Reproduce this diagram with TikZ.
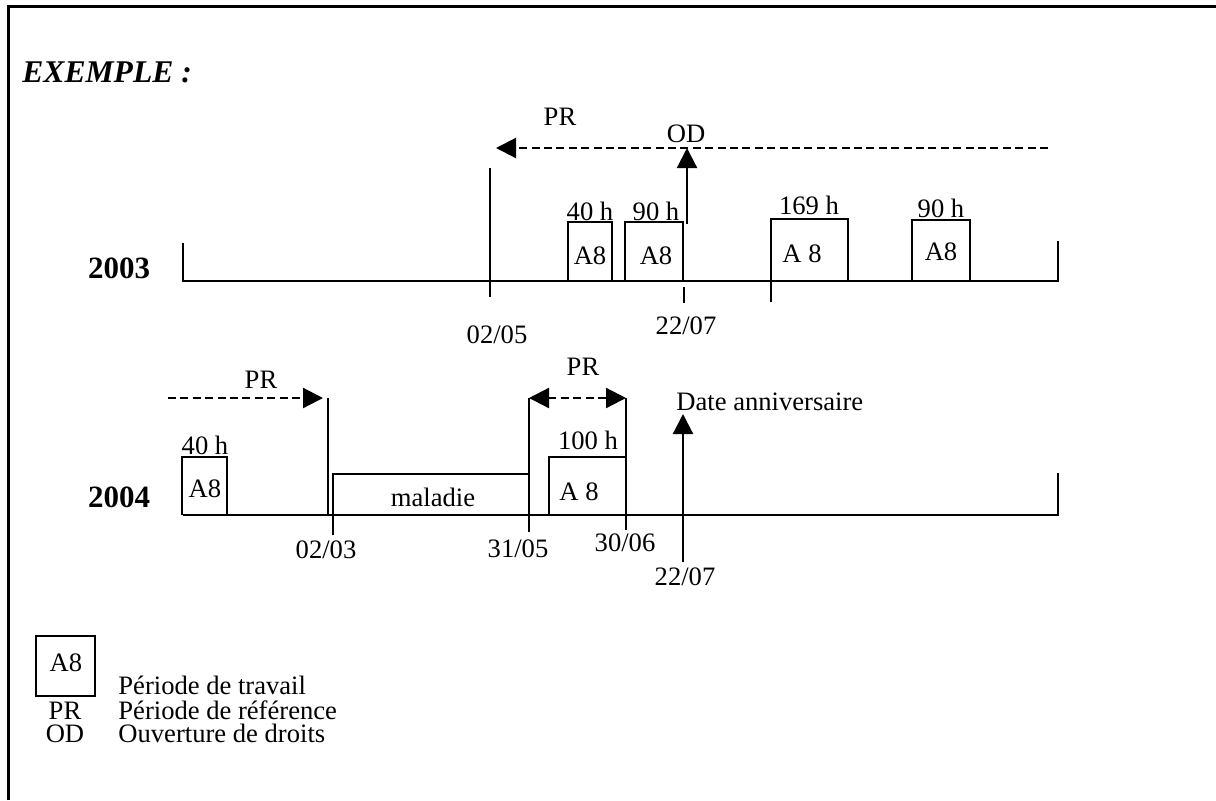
\documentclass[tikz,border=0pt]{standalone}
\usepackage{fontspec}
\setmainfont{Liberation Serif}
\usetikzlibrary{arrows.meta}
\begin{document}
\begin{tikzpicture}[x=0.5pt,y=-0.5pt,
  ln/.style={line width=1.1pt},
  dashln/.style={line width=1.1pt, dash pattern=on 4pt off 2.2pt},
  tipend/.style={-{Triangle[length=10pt,width=10pt]}},
  tipboth/.style={{Triangle[length=10pt,width=10pt]}-{Triangle[length=10pt,width=10pt]}},
  lbl/.style={inner sep=0pt, font=\fontsize{13.3}{15}\selectfont},
  yr/.style={inner sep=0pt, font=\fontsize{15.5}{18}\selectfont\bfseries},
]
\useasboundingbox (0,0) rectangle (1216,800);
\draw[line width=1.5pt] (8,800) -- (8,6) -- (1216,6);

\node[anchor=west, inner sep=0pt, font=\fontsize{15.8}{18}\selectfont\bfseries\itshape] (title) at (22,72) {EXEMPLE :};

% ---------- 2003 ----------
\node[yr] (y2003) at (119,268) {2003};
\coordinate (a0) at (183,281);
\coordinate (a1) at (1058,281);
\draw[ln] (183,243) -- (a0) -- (a1) -- (1058,241);

\coordinate (d0205t) at (490,168);
\coordinate (d0205b) at (490,297);
\draw[ln] (d0205t) -- (d0205b);
\node[lbl] (l0205) at (497,335) {02/05};

\draw[ln] (568,281) -- (568,222) -- (612,222) -- (612,281);
\node[lbl] (h40a) at (590,211) {40 h};
\node[lbl] (b40a) at (590,256) {A8};

\draw[ln] (625,281) -- (625,222) -- (683,222) -- (683,281);
\node[lbl] (h90a) at (656,211) {90 h};
\node[lbl] (b90a) at (656,256) {A8};

\coordinate (odb) at (687,224);
\coordinate (odt) at (687,148);
\draw[ln,tipend] (odb) -- (odt);
\node[lbl] (od) at (686,134) {OD};
\draw[ln] (684,287) -- (684,303);
\node[lbl] (l2207a) at (686,326) {22/07};

\coordinate (pra) at (1048,148);
\coordinate (prb) at (496,148);
\draw[dashln,tipend] (pra) -- (prb);
\node[lbl] (pr1) at (560,117) {PR};

\draw[ln] (771,302) -- (771,219) -- (848,219) -- (848,281);
\node[lbl] (h169) at (809,205) {169 h};
\node[lbl] (b169) at (802,254) {A 8};

\draw[ln] (912,281) -- (912,220) -- (970,220) -- (970,281);
\node[lbl] (h90b) at (941,208) {90 h};
\node[lbl] (b90b) at (941,252) {A8};

% ---------- 2004 ----------
\node[yr] (y2004) at (119,497) {2004};
\coordinate (c0) at (183,515);
\coordinate (c1) at (1058,515);
\draw[ln] (c0) -- (c1) -- (1058,473);

\draw[ln] (182,515) -- (182,457) -- (227,457) -- (227,515);
\node[lbl] (h40b) at (205,445) {40 h};
\node[lbl] (b40b) at (205,489) {A8};

\coordinate (pr2a) at (168,398);
\coordinate (pr2b) at (323,398);
\draw[dashln,tipend] (pr2a) -- (pr2b);
\node[lbl] (pr2) at (261,380) {PR};

\draw[ln] (328,398) -- (328,514);
\draw[ln] (333,535) -- (333,474) -- (529,474);
\draw[ln] (529,398) -- (529,532);
\node[lbl] (l0203) at (326,550) {02/03};
\node[lbl] (mal) at (433,497) {maladie};
\node[lbl] (l3105) at (518,549) {31/05};

\coordinate (pr3a) at (529,398);
\coordinate (pr3b) at (626,398);
\draw[dashln,tipboth] (pr3a) -- (pr3b);
\node[lbl] (pr3) at (583,367) {PR};

\draw[ln] (549,515) -- (549,457) -- (626,457);
\draw[ln] (626,398) -- (626,530);
\node[lbl] (h100) at (588,440) {100 h};
\node[lbl] (b100) at (579,492) {A 8};
\node[lbl] (l3006) at (625,543) {30/06};

\coordinate (dab) at (683,562);
\coordinate (dat) at (683,414);
\draw[ln,tipend] (dab) -- (dat);
\node[lbl, anchor=west] (da) at (676,402) {Date anniversaire};
\node[lbl] (l2207b) at (685,577) {22/07};

% ---------- legend ----------
\draw[ln] (36,636) rectangle (95,696);
\node[lbl] (legA8) at (66,663) {A8};
\node[lbl, anchor=base west] (legA8t) at (118,694) {Période de travail};
\node[lbl, anchor=base] (legPR) at (65,719) {PR};
\node[lbl, anchor=base west] (legPRt) at (118,719) {Période de référence};
\node[lbl, anchor=base] (legOD) at (65,742) {OD};
\node[lbl, anchor=base west] (legODt) at (118,742) {Ouverture de droits};
\end{tikzpicture}
\end{document}
